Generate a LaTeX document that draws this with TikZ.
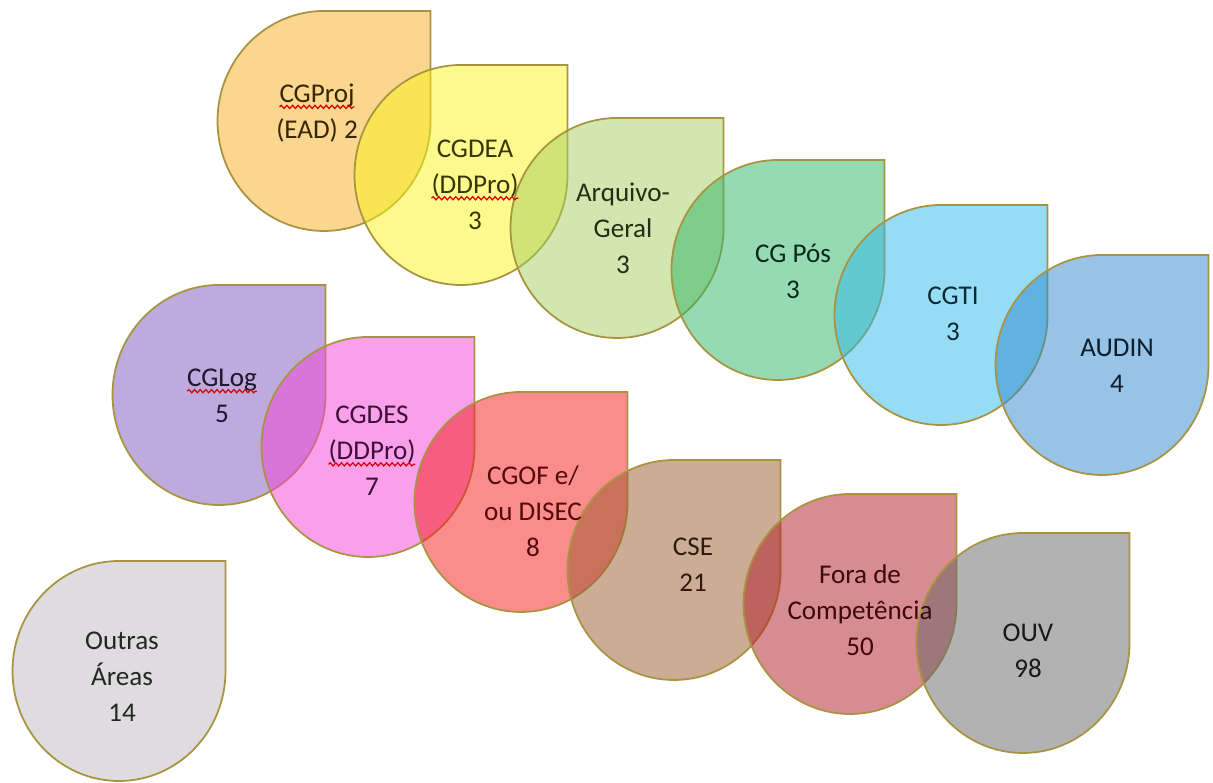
\documentclass[tikz,border=0pt]{standalone}
\usepackage{xcolor}
\usepackage{tikz}
\usepackage{fontspec}
\setmainfont{Carlito}
\usetikzlibrary{decorations.pathmorphing}

\definecolor{dropedge}{HTML}{A89440}
\definecolor{cproj}{HTML}{F5AD1D}
\definecolor{cdea}{HTML}{F9F519}
\definecolor{carq}{HTML}{A5CD5F}
\definecolor{cpos}{HTML}{2DB569}
\definecolor{cti}{HTML}{2DB9EB}
\definecolor{caud}{HTML}{2D87CD}
\definecolor{clog}{HTML}{7D55B9}
\definecolor{cdes}{HTML}{F541D7}
\definecolor{cgof}{HTML}{F51919}
\definecolor{ccse}{HTML}{9B592D}
\definecolor{cfora}{HTML}{AF1923}
\definecolor{couv}{HTML}{656565}
\definecolor{coutras}{HTML}{BDB9BD}

\tikzset{
  dropline/.style={draw=dropedge, line width=0.5pt, fill opacity=0.5},
  droptext/.style={align=center, inner sep=0pt, font=\fontsize{7.7}{10.3}\selectfont}
}
% teardrop: #1 centre, #2 colour
\newcommand{\drop}[2]{%
  \draw[dropline, fill=#2, shift={(#1)}] (1.065,1.10) -- (1.065,0)
    arc[start angle=0, end angle=-270, x radius=1.065, y radius=1.10] -- cycle;}
% red wavy mark under a word
\newcommand{\spell}[1]{\tikz[baseline=(w.base)]{\node[inner sep=0pt, outer sep=0pt] (w) {#1};
  \draw[red!85!black, line width=0.35pt, decorate, decoration={snake, amplitude=0.45pt, segment length=1.6pt}]
    ([yshift=-1.3pt]w.base west) -- ([yshift=-1.3pt]w.base east);}}

\begin{document}
\begin{tikzpicture}
\useasboundingbox (0,0) rectangle (12.13,7.83);
% centres
\coordinate (proj) at (3.24,6.62);
\coordinate (dea) at (4.61,6.08);
\coordinate (arq) at (6.17,5.55);
\coordinate (pos) at (7.78,5.13);
\coordinate (ti) at (9.41,4.68);
\coordinate (aud) at (11.02,4.18);
\coordinate (log) at (2.19,3.88);
\coordinate (des) at (3.68,3.36);
\coordinate (gof) at (5.21,2.81);
\coordinate (cse) at (6.74,2.13);
\coordinate (fora) at (8.50,1.79);
\coordinate (ouv) at (10.23,1.40);
\coordinate (outras) at (1.19,1.12);
% upper row
\drop{proj}{cproj}
\drop{dea}{cdea}
\drop{arq}{carq}
\drop{pos}{cpos}
\drop{ti}{cti}
\drop{aud}{caud}
% lower row
\drop{log}{clog}
\drop{des}{cdes}
\drop{gof}{cgof}
\drop{cse}{ccse}
\drop{fora}{cfora}
\drop{ouv}{couv}
\drop{outras}{coutras}
% labels
\node[droptext, text=cproj!22!black] (tproj) at (3.17,6.70) {\spell{CGProj}\\(EAD) 2};
\node[droptext, text=cdea!22!black] (tdea) at (4.75,5.98) {CGDEA\\\spell{(DDPro)}\\3};
\node[droptext, text=carq!22!black] (tarq) at (6.23,5.55) {Arquivo-\\Geral\\3};
\node[droptext, text=cpos!22!black] (tpos) at (7.93,5.12) {CG Pós\\3};
\node[droptext, text=cti!22!black] (tti) at (9.53,4.69) {CGTI\\3};
\node[droptext, text=caud!22!black] (taud) at (11.17,4.17) {AUDIN\\4};
\node[droptext, text=clog!25!black] (tlog) at (2.22,3.87) {\spell{CGLog}\\5};
\node[droptext, text=cdes!25!black] (tdes) at (3.72,3.32) {CGDES\\\spell{(DDPro)}\\7};
\node[droptext, text=cgof!35!black] (tgof) at (5.33,2.72) {CGOF e/\\ou DISEC\\8};
\node[droptext, text=ccse!30!black] (tcse) at (6.93,2.18) {CSE\\21};
\node[droptext, text=cfora!35!black] (tfora) at (8.60,1.73) {Fora de\\Competência\\50};
\node[droptext, text=couv!25!black] (touv) at (10.28,1.32) {OUV\\98};
\node[droptext, text=coutras!20!black] (toutras) at (1.22,1.06) {Outras\\Áreas\\14};
\end{tikzpicture}
\end{document}
